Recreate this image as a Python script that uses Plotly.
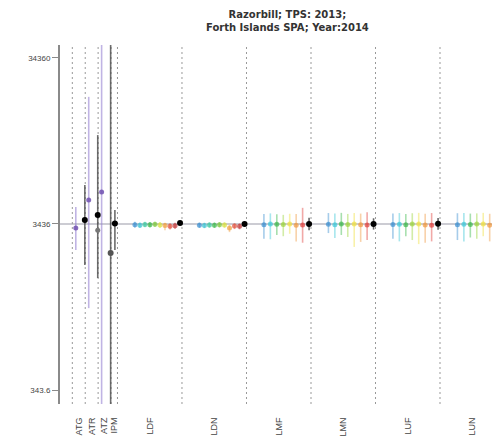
import plotly.graph_objects as go

# ---------------- data ----------------
groups = ["ATG", "ATR", "ATZ", "IPM", "LDF", "LDN", "LMF", "LMN", "LUF", "LUN"]
ref_count = 3436
y_ticks = [343.6, 3436, 34360]
y_tick_text = ["343.6", "3436", "34360"]

# coloured sub-estimates per group (estimate, lower, upper)
sub_est = {
    "ATG": [3250], "ATR": [4795], "ATZ": [5353], "IPM": [],
    "LDF": [3400, 3380, 3410, 3400, 3420, 3390, 3360, 3330, 3350],
    "LDN": [3380, 3370, 3390, 3380, 3400, 3390, 3250, 3340, 3330],
    "LMF": [3400, 3430, 3420, 3410, 3440, 3380, 3390],
    "LMN": [3420, 3400, 3430, 3410, 3440, 3400, 3390],
    "LUF": [3410, 3420, 3400, 3430, 3440, 3390, 3380],
    "LUN": [3400, 3420, 3410, 3430, 3440, 3380, 3370],
}
sub_lo = {
    "ATG": [2395], "ATR": [1070], "ATZ": [1], "IPM": [],
    "LDF": [3260, 3250, 3280, 3270, 3290, 3250, 3150, 3180, 3200],
    "LDN": [3250, 3240, 3260, 3250, 3270, 3260, 3070, 3200, 3190],
    "LMF": [2800, 2780, 2950, 2900, 3000, 2700, 2650],
    "LMN": [3030, 2830, 2950, 2870, 2500, 2680, 2750],
    "LUF": [2800, 2700, 2900, 2750, 2600, 2650, 2700],
    "LUN": [2750, 2700, 2850, 2800, 2900, 2700, 2650],
}
sub_hi = {
    "ATG": [4350], "ATR": [20030], "ATZ": [1e8], "IPM": [],
    "LDF": [3540, 3510, 3540, 3530, 3550, 3530, 3500, 3470, 3490],
    "LDN": [3510, 3500, 3520, 3510, 3530, 3520, 3380, 3470, 3460],
    "LMF": [3950, 3980, 3930, 3900, 3960, 3950, 4300],
    "LMN": [4000, 3980, 4010, 3950, 4000, 3970, 4050],
    "LUF": [3980, 4000, 3950, 3990, 4010, 3960, 4000],
    "LUN": [3990, 4000, 3970, 3980, 4010, 3960, 3990],
}
# overall (black) estimate per group
all_est = [3629, 3893, 2298, 3460, 3480, 3436, 3436, 3440, 3450, 3436]
all_lo = [1945, 1626, 1, 2395, 3390, 3340, 3150, 3180, 3170, 3160]
all_hi = [5900, 11790, 1e8, 4170, 3570, 3540, 3750, 3720, 3730, 3740]
# secondary (grey) estimate, only ATR
alt_est = [None, 3155, None, None, None, None, None, None, None, None]

# ---------------- styles ----------------
group_slots = [2, 2, 2, 1, 10, 10, 10, 10, 10, 10]
first_edge = -7
purple = ["rgba(112,80,176,0.85)"]
pal9 = ["#3a8fd0", "#3cc0d0", "#3cc8a0", "#3cb84c", "#7cc83c",
        "#d8e040", "#f0a040", "#e0503c", "#c03838"]
pal7 = ["#3a8fd0", "#3cc8d8", "#3cb84c", "#9cd43c", "#f0e040", "#f09840", "#e0403c"]
overall_colors = ["#000000", "#000000", "#555555", "#000000", "#000000",
                  "#000000", "#000000", "#000000", "#000000", "#000000"]


def hex_rgba(h, a):
    if h.startswith("rgba"):
        return h
    h = h.lstrip("#")
    return "rgba(%d,%d,%d,%.2f)" % (int(h[0:2], 16), int(h[2:4], 16), int(h[4:6], 16), a)


fig = go.Figure()

edges = [first_edge]
for w in group_slots:
    edges.append(edges[-1] + w)

x_min, x_max = -8.91, 59.3

# reference line
fig.add_trace(go.Scatter(x=[x_min, x_max], y=[ref_count, ref_count], mode="lines",
                         line=dict(color="#9a9aa8", width=1.2), hoverinfo="skip",
                         showlegend=False))

centers = []
for gi, g in enumerate(groups):
    start, w = edges[gi], group_slots[gi]
    centers.append(start + w / 2)
    est = sub_est[g]
    n = len(est) + 1
    if n == 1:
        xs = [start + 0.6 * w]
    else:
        xs = [start + w * (0.27 + 0.70 * i / (n - 1)) for i in range(n)]
    if len(est) == 1:
        pal = purple
    elif len(est) == 9:
        pal = pal9
    else:
        pal = pal7
    for i, v in enumerate(est):
        c = pal[i % len(pal)]
        fig.add_trace(go.Scatter(
            x=[xs[i]], y=[v], mode="markers",
            marker=dict(color=hex_rgba(c, 0.7), size=5),
            error_y=dict(type="data", symmetric=False,
                         array=[sub_hi[g][i] - v], arrayminus=[v - sub_lo[g][i]],
                         color=hex_rgba(c, 0.45) if len(est) > 1 else "rgba(150,130,210,0.6)",
                         thickness=1.6, width=0),
            showlegend=False, hoverinfo="y"))
    oc = overall_colors[gi]
    fig.add_trace(go.Scatter(
        x=[xs[-1]], y=[all_est[gi]], mode="markers",
        marker=dict(color=oc, size=6),
        error_y=dict(type="data", symmetric=False,
                     array=[all_hi[gi] - all_est[gi]], arrayminus=[all_est[gi] - all_lo[gi]],
                     color="rgba(60,60,60,0.75)" if gi < 4 else "rgba(0,0,0,0.6)",
                     thickness=1.6, width=0),
        showlegend=False, hoverinfo="y"))
    if alt_est[gi] is not None:
        fig.add_trace(go.Scatter(
            x=[xs[-1]], y=[alt_est[gi]], mode="markers",
            marker=dict(color="#777777", size=5),
            showlegend=False, hoverinfo="y"))

# dotted separators
for e in edges[:-1]:
    fig.add_shape(type="line", x0=e, x1=e, y0=0, y1=1, yref="paper", xref="x",
                  line=dict(color="#999999", width=1, dash="2px,3px"), layer="below")

# page body has an 8px margin, so the figure is laid out 8px up/left of the target
fig.update_layout(
    width=500, height=443,
    margin=dict(l=52, r=8, t=37, b=47),
    paper_bgcolor="white", plot_bgcolor="white",
    font=dict(family="Liberation Sans, Arial, sans-serif", color="#444"),
    xaxis=dict(range=[x_min, x_max], showgrid=False, zeroline=False, showline=False,
               tickmode="array", tickvals=centers, ticktext=groups, tickangle=-90,
               ticks="outside", ticklen=9, tickcolor="rgba(0,0,0,0)",
               tickfont=dict(size=9, color="#444")),
    yaxis=dict(type="log", range=[2.452, 4.614], showgrid=False, zeroline=False,
               showline=True, linecolor="#8a8a8a", linewidth=2,
               tickmode="array", tickvals=y_ticks, ticktext=y_tick_text,
               ticks="outside", ticklen=6, tickcolor="#8a8a8a", tickwidth=1,
               tickfont=dict(size=8, color="#444")),
    annotations=[dict(text="<b>Razorbill; TPS: 2013;<br>Forth Islands SPA; Year:2014</b>",
                      xref="paper", yref="paper", x=0.518, y=1 + 24 / 359,
                      xanchor="center", yanchor="middle", showarrow=False,
                      font=dict(family="DejaVu Sans", size=10, color="#333"))],
)

fig.write_html("out.html")
